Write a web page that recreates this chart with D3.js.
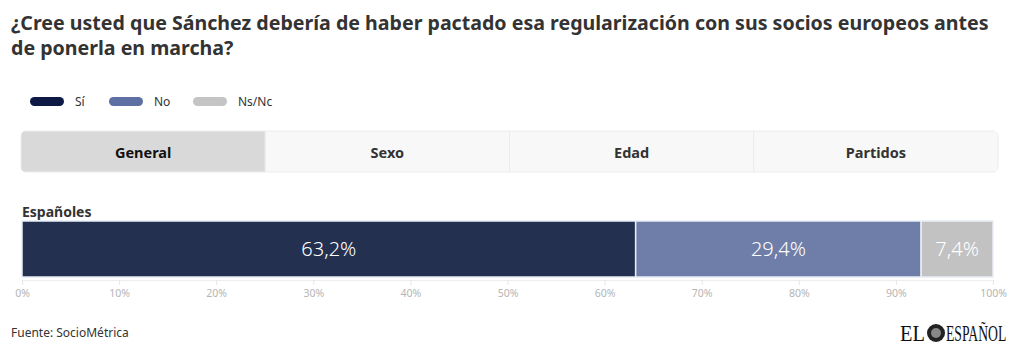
<!DOCTYPE html>
<html>
<head>
<meta charset="utf-8">
<script src="https://d3js.org/d3.v7.min.js"></script>
<style>
  body { margin: 0; background: #fff; }
  svg { display: block; font-family: "Noto Sans", sans-serif; }
</style>
</head>
<body>
<script>
// data
var titleLines = ["¿Cree usted que Sánchez debería de haber pactado esa regularización con sus socios europeos antes", "de ponerla en marcha?"]
var answers = ["Sí", "No", "Ns/Nc"]
var values = [63.2, 29.4, 7.4]
var pillColors = ["#0e1a45", "#5d6fa3", "#c4c4c4"]
var barColors = ["#233050", "#6f7ea8", "#c2c2c2"]
var tabs = ["General", "Sexo", "Edad", "Partidos"]
var rowLabel = "Españoles"
var ticks = [0, 10, 20, 30, 40, 50, 60, 70, 80, 90, 100]
var source = "Fuente: SocioMétrica"

var W = 1020, H = 356
var svg = d3.select("body").append("svg")
    .attr("width", W)
    .attr("height", H)

// title
svg.append("g").selectAll("text")
    .data(titleLines)
    .enter().append("text")
    .attr("x", 11)
    .attr("y", function(d, i) { return 30 + i * 25 })
    .attr("fill", "#333")
    .style("font-size", "19.6px")
    .style("font-weight", "700")
    .text(function(d) { return d })

// legend
var legendX = [30, 109, 193]
var legend = svg.append("g").selectAll("g")
    .data(answers)
    .enter().append("g")
    .attr("transform", function(d, i) { return "translate(" + legendX[i] + ",97)" })
legend.append("rect")
    .attr("width", 34).attr("height", 9)
    .attr("rx", 4.5)
    .attr("fill", function(d, i) { return pillColors[i] })
legend.append("text")
    .attr("x", 45).attr("y", 8.5)
    .attr("fill", "#333")
    .style("font-size", "12px")
    .text(function(d) { return d })

// tabs
var tabX = d3.scaleBand().domain(tabs).range([21, 998])
var tabG = svg.append("g")
tabG.append("rect")
    .attr("x", 21).attr("y", 131)
    .attr("width", 977).attr("height", 41)
    .attr("rx", 5)
    .attr("fill", "#f8f8f8")
    .attr("stroke", "#ececec")
tabG.append("clipPath").attr("id", "tabclip")
  .append("rect")
    .attr("x", 21).attr("y", 131)
    .attr("width", 977).attr("height", 41)
    .attr("rx", 5)
tabG.selectAll(".tab")
    .data(tabs)
    .enter().append("rect")
    .attr("class", "tab")
    .attr("clip-path", "url(#tabclip)")
    .attr("x", function(d) { return tabX(d) })
    .attr("y", 131)
    .attr("width", tabX.bandwidth())
    .attr("height", 41)
    .attr("fill", function(d, i) { return i == 0 ? "#d9d9d9" : "#f8f8f8" })
    .attr("stroke", "#ececec")
tabG.selectAll(".tablabel")
    .data(tabs)
    .enter().append("text")
    .attr("class", "tablabel")
    .attr("x", function(d) { return tabX(d) + tabX.bandwidth() / 2 })
    .attr("y", 158)
    .attr("text-anchor", "middle")
    .attr("fill", function(d, i) { return i == 0 ? "#111" : "#333" })
    .style("font-size", "14.5px")
    .style("font-weight", "700")
    .text(function(d) { return d })

// bar
var x = d3.scaleLinear().domain([0, 100]).range([22, 993])
var barY = 221, barH = 56

svg.append("text")
    .attr("x", 22).attr("y", 217)
    .attr("fill", "#333")
    .style("font-size", "14px")
    .style("font-weight", "700")
    .text(rowLabel)

var stack = []
var acc = 0
values.forEach(function(v, i) {
  stack.push({ name: answers[i], v: v, x0: acc, x1: acc + v, color: barColors[i] })
  acc += v
})

// axis
var axis = d3.axisBottom(x)
    .tickValues(ticks)
    .tickSize(5)
    .tickFormat(function(d) { return d + "%" })
var ax = svg.append("g")
    .attr("transform", "translate(0," + (barY + barH + 3) + ")")
    .call(axis)
ax.select(".domain").attr("stroke", "#eeeeee")
ax.selectAll(".tick line").attr("stroke", "#e6e6e6")
ax.selectAll(".tick text")
    .attr("fill", "#b5b5b5")
    .attr("y", 10)
    .style("font-size", "10.5px")
    .style("font-family", "Noto Sans, sans-serif")

var seg = svg.append("g").selectAll("g")
    .data(stack)
    .enter().append("g")
seg.append("rect")
    .attr("x", function(d) { return x(d.x0) })
    .attr("y", barY)
    .attr("width", function(d) { return x(d.x1) - x(d.x0) })
    .attr("height", barH)
    .attr("fill", function(d) { return d.color })
    .attr("stroke", "#e8eef6")
    .attr("stroke-width", 1.5)
seg.append("text")
    .attr("x", function(d) { return (x(d.x0) + x(d.x1)) / 2 })
    .attr("y", barY + barH / 2 + 7)
    .attr("text-anchor", "middle")
    .attr("fill", "#fff")
    .style("font-size", "20px")
    .style("font-weight", "300")
    .text(function(d) { return d3.format(".1f")(d.v).replace(".", ",") + "%" })

// footer
svg.append("text")
    .attr("x", 11).attr("y", 337)
    .attr("fill", "#333")
    .style("font-size", "12px")
    .text(source)

// logo, condensed serif via horizontal scale
var logo = svg.append("g").attr("transform", "translate(900,341)")
logo.append("text")
    .attr("transform", "scale(0.85,1)")
    .style("font-family", "Liberation Serif, serif")
    .style("font-size", "24px")
    .attr("fill", "#111")
    .text("EL")
logo.append("circle")
    .attr("cx", 36).attr("cy", -8)
    .attr("r", 9)
    .attr("fill", "#222")
logo.append("circle")
    .attr("cx", 36).attr("cy", -8)
    .attr("r", 5)
    .attr("fill", "#888")
logo.append("text")
    .attr("transform", "translate(46,0) scale(0.57,1)")
    .style("font-family", "Liberation Serif, serif")
    .style("font-size", "24px")
    .attr("fill", "#111")
    .text("ESPAÑOL")
</script>
</body>
</html>
